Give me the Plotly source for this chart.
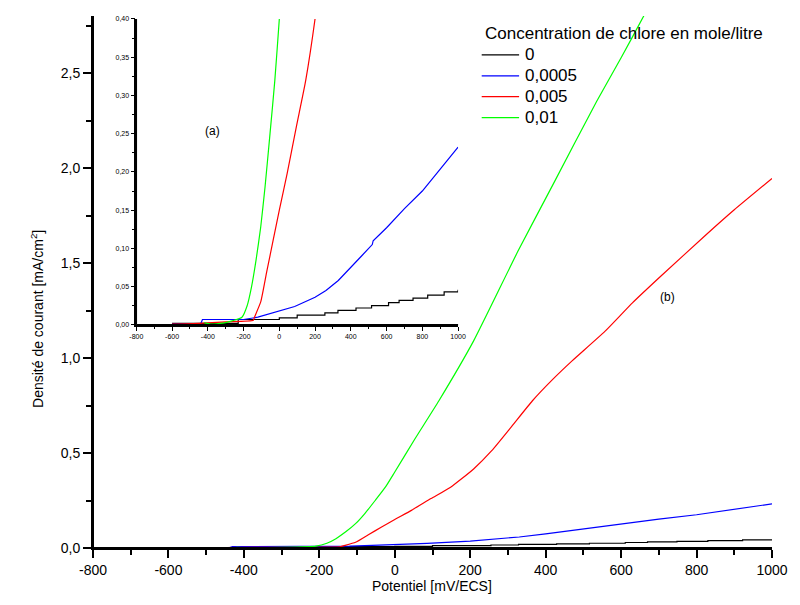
import plotly.graph_objects as go

# ---- data (potential in mV/ECS, current density in mA/cm2) ----
series_names = ["0", "0,0005", "0,005", "0,01"]
series_colors = ["#000000", "#0000FF", "#FF0000", "#00FF00"]
series_shapes = ["hv", "linear", "spline", "spline"]
legend_title = "Concentration de chlore en mole/litre"

x_c0 = [-600, -230, 0, 100, 255, 328, 429, 516, 611, 670, 748, 830, 922, 1000]
y_c0 = [0.002, 0.007, 0.009, 0.0127, 0.0157, 0.019, 0.022, 0.025, 0.029, 0.032, 0.035, 0.0388, 0.043, 0.046]

x_c1 = [-600, -440, -430, -300, -200, -120, -60, 0, 86, 200, 261, 330, 400, 460, 520, 525, 600, 700, 800, 900, 1000]
y_c1 = [0.001, 0.001, 0.007, 0.007, 0.007, 0.010, 0.014, 0.018, 0.024, 0.036, 0.045, 0.058, 0.0745, 0.090, 0.105, 0.110, 0.127, 0.152, 0.175, 0.203, 0.2325]

x_c2 = [-600, -450, -300, -145, -139, -104, -70, -35, 0, 44, 96, 148, 209, 257, 310, 365, 420, 470, 557, 630, 705, 826, 900, 1000]
y_c2 = [0.001, 0.002, 0.004, 0.006, 0.010, 0.030, 0.070, 0.110, 0.150, 0.198, 0.260, 0.320, 0.416, 0.512, 0.640, 0.775, 0.890, 0.985, 1.140, 1.290, 1.430, 1.650, 1.780, 1.945]

x_c3 = [-420, -380, -300, -209, -180, -156, -130, -104, -80, -52, -25, 0, 52, 117, 209, 326, 420, 535, 600, 660, 700]
y_c3 = [0.003, 0.001, 0.003, 0.010, 0.025, 0.049, 0.085, 0.128, 0.180, 0.250, 0.320, 0.400, 0.570, 0.775, 1.090, 1.560, 1.915, 2.350, 2.580, 2.800, 2.950]

xs = [x_c0, x_c1, x_c2, x_c3]
ys = [y_c0, y_c1, y_c2, y_c3]

x_ticks = [-800, -600, -400, -200, 0, 200, 400, 600, 800, 1000]
y_ticks_main = [0.0, 0.5, 1.0, 1.5, 2.0, 2.5]
y_ticks_inset = [0.00, 0.05, 0.10, 0.15, 0.20, 0.25, 0.30, 0.35, 0.40]

x_tick_text = [str(v) for v in x_ticks]
y_main_text = [f"{v:.1f}".replace(".", ",") for v in y_ticks_main]
y_inset_text = [f"{v:.2f}".replace(".", ",") for v in y_ticks_inset]

FONT = "Liberation Sans, Arial, sans-serif"

fig = go.Figure()
for axes in [("x", "y"), ("x2", "y2")]:
    for name, col, shp, x, y in zip(series_names, series_colors, series_shapes, xs, ys):
        fig.add_trace(go.Scatter(x=x, y=y, mode="lines", name=name, showlegend=False,
                                 line=dict(color=col, width=1.2, shape=shp,
                                           smoothing=0.5 if shp == "spline" else None),
                                 xaxis=axes[0], yaxis=axes[1]))

W, H = 800, 605
ml, mr, mt, mb = 93, 17, 14, 57
pw, ph = W - ml - mr, H - mt - mb

def px_x(p):
    return (p - ml) / pw

def px_y(p):
    return (H - mb - p) / ph

main_axis = dict(showline=True, linecolor="black", linewidth=2, ticks="outside",
                 ticklen=8, tickwidth=2, tickcolor="black", showgrid=False, zeroline=False,
                 tickfont=dict(family=FONT, size=14, color="black"))

fig.update_layout(
    width=W, height=H,
    margin=dict(l=ml, r=mr, t=mt, b=mb),
    paper_bgcolor="white", plot_bgcolor="white",
    font=dict(family=FONT, color="black"),
    showlegend=False,
    xaxis=dict(main_axis, range=[-800, 1000], tickvals=x_ticks, ticktext=x_tick_text,
               minor=dict(ticks="outside", ticklen=5, tickwidth=2, tickcolor="black", dtick=100, tick0=-800)),
    yaxis=dict(main_axis, range=[0, 2.8], tickvals=y_ticks_main, ticktext=y_main_text,
               minor=dict(ticks="outside", ticklen=5, tickwidth=2, tickcolor="black", dtick=0.25, tick0=0)),
    xaxis2=dict(domain=[px_x(137), px_x(464)], anchor="y2", range=[-800, 1000],
                showline=True, linecolor="black", linewidth=1.5, ticks="outside", ticklen=4,
                tickwidth=1.2, tickcolor="black", showgrid=False, zeroline=False,
                tickvals=x_ticks, ticktext=x_tick_text,
                tickfont=dict(family=FONT, size=7, color="black"),
                minor=dict(ticks="outside", ticklen=2.5, tickwidth=1.2, tickcolor="black", dtick=100, tick0=-800)),
    yaxis2=dict(domain=[px_y(324), px_y(17)], anchor="x2", range=[0, 0.40],
                showline=True, linecolor="black", linewidth=1.5, ticks="outside", ticklen=4,
                tickwidth=1.2, tickcolor="black", showgrid=False, zeroline=False,
                tickvals=y_ticks_inset, ticktext=y_inset_text,
                tickfont=dict(family=FONT, size=7, color="black"),
                minor=dict(ticks="outside", ticklen=2.5, tickwidth=1.2, tickcolor="black", dtick=0.025, tick0=0)),
)

# axis lines (drawn explicitly so they always show)
for xr, yr, lw in [("x domain", "y domain", 2), ("x2 domain", "y2 domain", 1.5)]:
    fig.add_shape(type="line", xref=xr, yref=yr, x0=0, x1=1, y0=0, y1=0,
                  line=dict(color="black", width=lw), layer="above")
    fig.add_shape(type="line", xref=xr, yref=yr, x0=0, x1=0, y0=0, y1=1,
                  line=dict(color="black", width=lw), layer="above")

# custom legend
leg_x0, leg_x1, leg_tx = 488, 526, 531
leg_title_y = 32
leg_rows_y = [53, 74, 95, 116]
fig.add_annotation(text=legend_title, xref="paper", yref="paper",
                   x=px_x(leg_x0 + 1), y=px_y(leg_title_y), xanchor="left", yanchor="middle",
                   showarrow=False, font=dict(family=FONT, size=17, color="black"))
for name, col, yy in zip(series_names, series_colors, leg_rows_y):
    fig.add_shape(type="line", xref="paper", yref="paper",
                  x0=px_x(leg_x0), x1=px_x(leg_x1), y0=px_y(yy), y1=px_y(yy),
                  line=dict(color=col, width=1.2))
    fig.add_annotation(text=name, xref="paper", yref="paper",
                       x=px_x(leg_tx - 1), y=px_y(yy - 0.5), xanchor="left", yanchor="middle",
                       showarrow=False, font=dict(family=FONT, size=17, color="black"))

fig.add_annotation(text="Potentiel [mV/ECS]", xref="paper", yref="paper",
                   x=px_x(437), y=px_y(596), showarrow=False,
                   font=dict(family=FONT, size=14, color="black"))
fig.add_annotation(text="Densité de courant [mA/cm<sup>2</sup>]", xref="paper", yref="paper",
                   x=px_x(25), y=px_y(318), showarrow=False, textangle=-90,
                   font=dict(family=FONT, size=14, color="black"))
fig.add_annotation(text="(a)", xref="paper", yref="paper", x=px_x(205), y=px_y(120),
                   showarrow=False, font=dict(family=FONT, size=12, color="black"))
fig.add_annotation(text="(b)", xref="paper", yref="paper", x=px_x(686), y=px_y(296),
                   showarrow=False, font=dict(family=FONT, size=12, color="black"))

fig.write_html("out.html")
